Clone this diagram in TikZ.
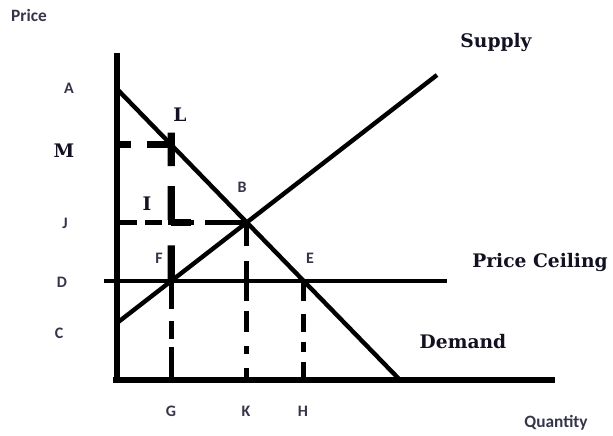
\documentclass[tikz,border=0pt]{standalone}
\usepackage{fontspec}
\setsansfont{Carlito}
\newfontfamily\curvefont{DejaVu Serif}
\definecolor{markink}{HTML}{35354A}
\definecolor{curveink}{HTML}{111122}
\tikzset{
  axisline/.style={line width=4pt},
  curveline/.style={line width=3.3pt},
  heavyline/.style={line width=5.4pt},
  gdash/.style={line width=3.6pt, dash pattern=on 21pt off 9pt on 13.5pt off 6pt on 30pt},
  kdash/.style={line width=3.6pt, dash pattern=on 18pt off 11pt on 30pt off 7.5pt on 16pt off 10.5pt on 6pt off 10pt on 10pt},
  hdash/.style={line width=3.6pt, dash pattern=on 15pt off 10pt on 13pt off 7.5pt on 8pt off 7.5pt on 12pt},
  jdash/.style={line width=3.4pt, dash pattern=on 31.5pt off 8.25pt on 19.5pt off 4.5pt on 12.75pt off 6pt on 20pt},
  mdash/.style={heavyline, dash pattern=on 18pt off 12pt on 20pt},
  ldash/.style={heavyline, dash pattern=on 25pt off 15pt on 25.5pt off 19pt on 27pt},
  pointmark/.style={font=\sffamily\bfseries\fontsize{12}{14}\selectfont, text=markink, inner sep=0pt},
  axistitle/.style={font=\sffamily\bfseries\fontsize{13}{15}\selectfont, text=markink, inner sep=0pt},
  curvetitle/.style={font=\curvefont\bfseries\fontsize{14}{16}\selectfont, text=curveink, inner sep=0pt},
}
\begin{document}
\begin{tikzpicture}[x=0.75pt, y=-0.75pt]
  \useasboundingbox (0,0) rectangle (613,435);

  \coordinate (origin) at (117,380);
  \coordinate (ytop) at (117,53);
  \coordinate (xleft) at (113,380);
  \coordinate (xright) at (555,380);
  \coordinate (dtop) at (117,89);
  \coordinate (dbot) at (400,380);
  \coordinate (sbot) at (117,323);
  \coordinate (stop) at (437,75);
  \coordinate (cleft) at (104,281);
  \coordinate (cright) at (447,281);
  \coordinate (eqB) at (intersection of dtop--dbot and sbot--stop);
  \coordinate (ptF) at (intersection of sbot--stop and cleft--cright);
  \coordinate (ptE) at (intersection of dtop--dbot and cleft--cright);
  \coordinate (ptL) at (intersection of dtop--dbot and ptF--{ptF |- ytop});
  \coordinate (ltop) at ([yshift=9pt]ptL);
  \coordinate (footL) at (ptF |- eqB);
  \coordinate (footR) at ([xshift=15pt]footL);
  \coordinate (axisJ) at (origin |- eqB);
  \coordinate (axisM) at (origin |- ptL);
  \coordinate (baseG) at (ptF |- origin);
  \coordinate (baseK) at (eqB |- origin);
  \coordinate (baseH) at (ptE |- origin);

  \draw[axisline] (ytop) -- (origin);
  \draw[axisline] (xleft) -- (xright);
  \draw[curveline] (dtop) -- (dbot);
  \draw[curveline] (sbot) -- (stop);
  \draw[curveline] (cleft) -- (cright);

  \draw[jdash] (eqB) -- (axisJ);
  \draw[mdash] (ptL) -- (axisM);
  \draw[ldash] (ltop) -- (ptF);
  \draw[heavyline] (footL) -- (footR);
  \draw[gdash] (ptF) -- (baseG);
  \draw[kdash] (eqB) -- (baseK);
  \draw[hdash] (ptE) -- (baseH);

  \node[axistitle] (priceT) at (29,15) {Price};
  \node[axistitle] (qtyT) at (556,423) {Quantity};
  \node[pointmark] (lblA) at (69,88) {A};
  \node[pointmark] (lblJ) at (65,223) {J};
  \node[pointmark] (lblD) at (62,282) {D};
  \node[pointmark] (lblC) at (59,333) {C};
  \node[pointmark] (lblB) at (242,187) {B};
  \node[pointmark] (lblF) at (159,258) {F};
  \node[pointmark] (lblE) at (310,258) {E};
  \node[pointmark] (lblG) at (171,411) {G};
  \node[pointmark] (lblK) at (246,411) {K};
  \node[pointmark] (lblH) at (303,411) {H};
  \node[curvetitle] (lblM) at (64,151) {M};
  \node[curvetitle] (lblL) at (180,115) {L};
  \node[curvetitle] (lblI) at (147,204) {I};
  \node[curvetitle] (supplyT) at (496,42) {Supply};
  \node[curvetitle] (ceilT) at (540,262) {Price Ceiling};
  \node[curvetitle] (demandT) at (463,342) {Demand};
\end{tikzpicture}
\end{document}
